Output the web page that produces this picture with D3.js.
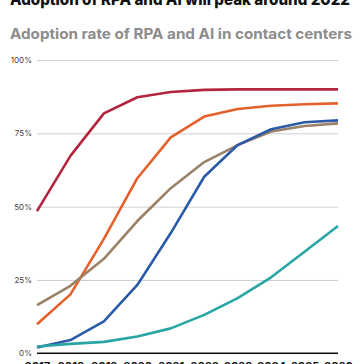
<!DOCTYPE html>
<html>
<head>
<meta charset="utf-8">
<script src="https://cdn.jsdelivr.net/npm/d3@7"></script>
<style>
  html, body { margin: 0; padding: 0; background: #fff; }
  svg { display: block; font-family: Inter, "Noto Sans", sans-serif; }
</style>
</head>
<body>
<div id="chart"></div>
<script>
const years = ["2017", "2018", "2019", "2020", "2021", "2022", "2023", "2024", "2025", "2026"]
const yTicks = [0, 25, 50, 75, 100]

const seriesNames = ["Red", "Orange", "Brown", "Blue", "Teal"]
const redValues    = [48.5, 67.3, 81.8, 87.3, 89.1, 89.8, 90.0, 90.0, 90.0, 90.0]
const orangeValues = [9.9, 20.1, 39.0, 59.7, 73.6, 80.7, 83.3, 84.4, 84.9, 85.2]
const brownValues  = [16.4, 23.0, 32.2, 45.1, 56.3, 65.2, 71.0, 75.6, 77.5, 78.4]
const blueValues   = [2.0, 4.5, 10.9, 23.3, 41.0, 60.2, 71.0, 76.4, 78.8, 79.4]
const tealValues   = [2.3, 3.2, 3.9, 5.7, 8.5, 13.1, 18.8, 25.9, 34.6, 43.4]
const colors = ["#b3243f", "#e4612c", "#9a8266", "#2b5ba8", "#2aa5a5"]

const W = 364, H = 364
const margin = {top: 60, right: 26, bottom: 10.7, left: 37}

const svg = d3.select("#chart")
	.append("svg")
	.attr("width", W)
	.attr("height", H)

// title, cut off at the top like the source
svg.append("text")
	.attr("x", 10)
	.attr("y", 5)
	.attr("textLength", 340)
	.attr("lengthAdjust", "spacingAndGlyphs")
	.style("font-size", "16px")
	.style("font-weight", 800)
	.style("fill", "#111")
	.text("Adoption of RPA and AI will peak around 2022")

svg.append("text")
	.attr("x", 10)
	.attr("y", 39)
	.attr("textLength", 342)
	.attr("lengthAdjust", "spacingAndGlyphs")
	.style("font-size", "14.3px")
	.style("font-weight", 700)
	.style("fill", "#8c8c8c")
	.text("Adoption rate of RPA and AI in contact centers")

const x = d3.scalePoint()
	.domain(years)
	.range([margin.left, W - margin.right])

const y = d3.scaleLinear()
	.domain([0, 100])
	.range([H - margin.bottom, margin.top])

// grid + y labels
const yAxis = d3.axisLeft(y)
	.tickValues(yTicks)
	.tickSize(-(x.range()[1] - x.range()[0]))
	.tickPadding(5)
	.tickFormat(d => d + "%")

svg.append("g")
	.attr("transform", `translate(${margin.left},0)`)
	.call(yAxis)
	.call(g => g.select(".domain").remove())
	.call(g => g.selectAll("line").attr("stroke", "#cfcfcf").attr("stroke-width", 1))
	.call(g => g.selectAll("text")
		.style("font-size", "8px")
		.style("fill", "#444")
		.style("font-family", "Inter, sans-serif"))

// zero baseline
svg.append("line")
	.attr("x1", x.range()[0])
	.attr("x2", x.range()[1])
	.attr("y1", y(0))
	.attr("y2", y(0))
	.attr("stroke", "#111")
	.attr("stroke-width", 1.6)

// x labels (cut off at the bottom)
const xAxis = d3.axisBottom(x).tickSize(0).tickPadding(9)
svg.append("g")
	.attr("transform", `translate(0,${y(0)})`)
	.call(xAxis)
	.call(g => g.select(".domain").remove())
	.call(g => g.selectAll("text")
		.style("font-size", "11px")
		.style("font-weight", 700)
		.style("fill", "#111")
		.style("font-family", "Inter, sans-serif"))

const allSeries = [redValues, orangeValues, brownValues, blueValues, tealValues]

const line = d3.line()
	.x((d, i) => x(years[i]))
	.y(d => y(d))

svg.append("g")
	.selectAll("path")
	.data(allSeries)
	.enter().append("path")
	.attr("class", (d, i) => "line " + seriesNames[i])
	.attr("d", line)
	.attr("fill", "none")
	.attr("stroke", (d, i) => colors[i])
	.attr("stroke-width", 2.6)
	.attr("stroke-linejoin", "round")
</script>
</body>
</html>
